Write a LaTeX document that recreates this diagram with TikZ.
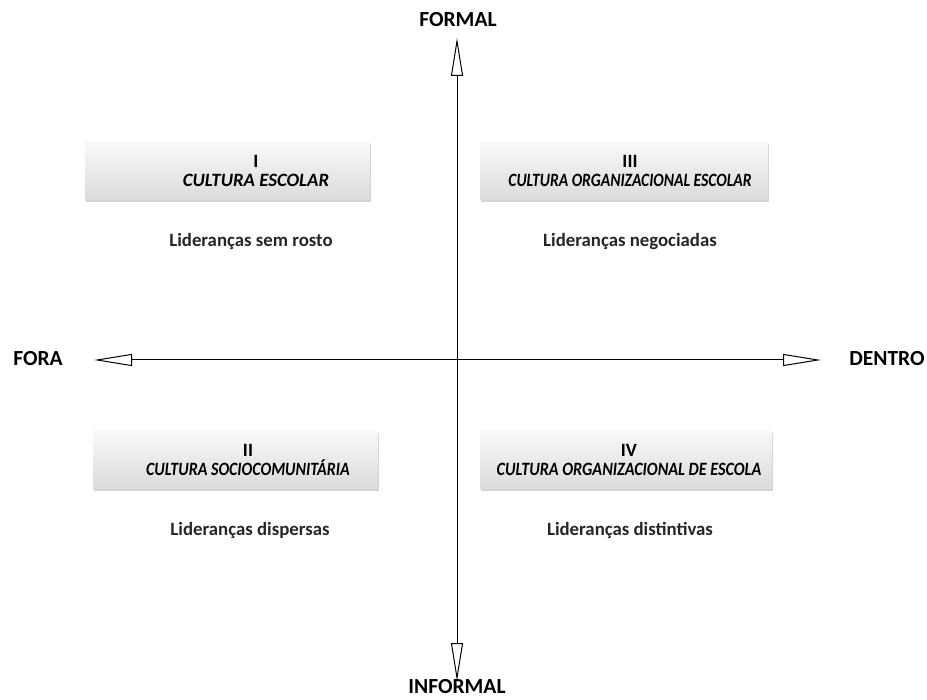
\documentclass[tikz,border=0pt]{standalone}
\usepackage{fontspec}
\setmainfont{Carlito}
\usetikzlibrary{arrows.meta,shadows}
\begin{document}
\begin{tikzpicture}[x=1pt,y=-1pt,
  quad/.style={minimum height=58pt, top color=gray!5, bottom color=gray!28, draw=none,
    drop shadow={shadow xshift=1pt, shadow yshift=-2pt, opacity=0.35, fill=gray},
    inner sep=0pt},
  qtext/.style={align=center, font=\fontsize{18.8}{20}\selectfont\bfseries, inner sep=0pt},
  lid/.style={font=\fontsize{18.8}{20}\selectfont\bfseries, text=black!85},
  axlab/.style={font=\fontsize{21.5}{24}\selectfont\bfseries},
  axis/.style={line width=1pt, -{Triangle[open, length=38pt, width=12pt, line width=1pt]}}]
\useasboundingbox (0,0) rectangle (927,700);
% axes
\coordinate (top) at (457,38);
\coordinate (bot) at (457,681);
\coordinate (lft) at (94,360);
\coordinate (rgt) at (821,360);
\coordinate (ctr) at (457,360);
\draw[axis] (ctr) -- (top);
\draw[axis] (ctr) -- (bot);
\draw[axis] (ctr) -- (lft);
\draw[axis] (ctr) -- (rgt);
% axis labels
\node[axlab] (formal) at (458,20) {FORMAL};
\node[axlab] (informal) at (457,687) {INFORMAL};
\node[axlab] (fora) at (38,359) {FORA};
\node[axlab] (dentro) at (887,359) {DENTRO};
% boxes
\node[quad, minimum width=285pt] (q1) at (227.5,171) {};
\node[quad, minimum width=288pt] (q3) at (624,171) {};
\node[quad, minimum width=285pt] (q2) at (235.5,460) {};
\node[quad, minimum width=292pt] (q4) at (626,460) {};
\node[qtext] (t1) at (256,171) {I\\[-1pt]\textit{CULTURA ESCOLAR}};
\node[qtext] (t3) at (630,171) {III\\[-1pt]\scalebox{0.83}[1]{\textit{CULTURA ORGANIZACIONAL ESCOLAR}}};
\node[qtext] (t2) at (248,460) {II\\[-1pt]\scalebox{0.85}[1]{\textit{CULTURA SOCIOCOMUNITÁRIA}}};
\node[qtext] (t4) at (629,460) {IV\\[-1pt]\scalebox{0.86}[1]{\textit{CULTURA ORGANIZACIONAL DE ESCOLA}}};
% leadership labels
\node[lid] (l1) at (251,241) {Lideranças sem rosto};
\node[lid] (l3) at (630,241) {Lideranças negociadas};
\node[lid] (l2) at (250,530) {Lideranças dispersas};
\node[lid] (l4) at (630,530) {Lideranças distintivas};
\end{tikzpicture}
\end{document}
